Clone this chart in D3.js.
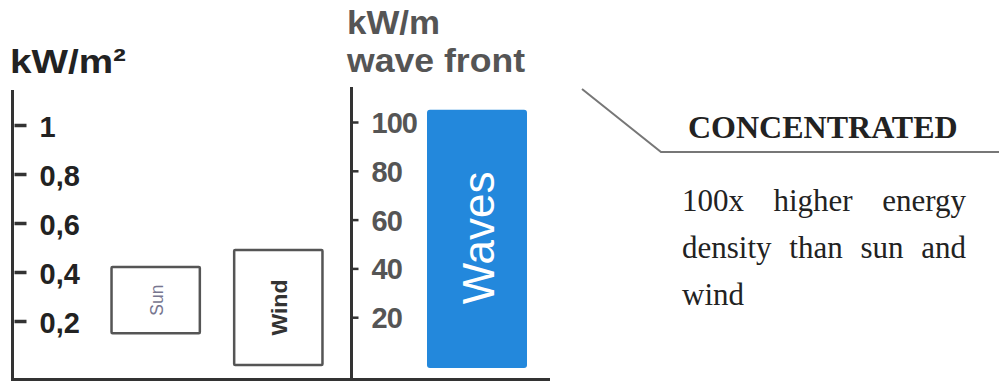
<!DOCTYPE html>
<html>
<head>
<meta charset="utf-8">
<script src="https://cdn.jsdelivr.net/npm/d3@7"></script>
<style>
  html, body { margin: 0; padding: 0; background: #fff; }
  svg { display: block; }
</style>
</head>
<body>
<svg id="chart" width="999" height="383"></svg>
<script>
// ---- data ----
const leftCategories = ["Sun", "Wind"];
const leftLow = [0.15, 0.02];
const leftHigh = [0.42, 0.49];
const leftTicks = [0.2, 0.4, 0.6, 0.8, 1];
const leftTickLabels = ["0,2", "0,4", "0,6", "0,8", "1"];
const leftUnit = "kW/m²";

const rightCategories = ["Waves"];
const rightLow = [0];
const rightHigh = [105];
const rightTicks = [20, 40, 60, 80, 100];
const rightTickLabels = ["20", "40", "60", "80", "100"];
const rightUnit = ["kW/m", "wave front"];

const headline = "CONCENTRATED";
const bodyLines = ["100x higher energy", "density than sun and", "wind"];

// ---- drawing ----
const svg = d3.select("#chart");
const sans = "'Liberation Sans', Arial, sans-serif";
const serif = "'Liberation Serif', 'Times New Roman', serif";

const yL = d3.scaleLinear().domain([0, 1]).range([370, 125]);
const yR = d3.scaleLinear().domain([0, 100]).range([366, 122]);
const xL = d3.scaleBand().domain(leftCategories).range([87, 347]).paddingInner(0.28).paddingOuter(0.2);
const xR = d3.scaleBand().domain(rightCategories).range([406, 548]).paddingInner(0).paddingOuter(0.21);

const leftAxisX = 12.5, rightAxisX = 351.5;

// bottom baseline
svg.append("line").attr("x1", 11).attr("x2", 550).attr("y1", 379.5).attr("y2", 379.5)
  .attr("stroke", "#333").attr("stroke-width", 3);

// left axis
const gL = svg.append("g").attr("transform", `translate(${leftAxisX},0)`)
  .call(d3.axisRight(yL).tickValues(leftTicks)
    .tickFormat((d, i) => leftTickLabels[i]).tickSize(14).tickPadding(13).tickSizeOuter(0));
gL.select(".domain").remove();
gL.selectAll(".tick line").attr("stroke", "#333").attr("stroke-width", 3.5).attr("x1", 2);
gL.selectAll(".tick text").attr("fill", "#222").style("font-family", sans)
  .style("font-size", "29px").style("font-weight", "bold").attr("dy", "0.38em");
svg.append("line").attr("x1", leftAxisX).attr("x2", leftAxisX).attr("y1", 90).attr("y2", 381)
  .attr("stroke", "#333").attr("stroke-width", 3);

// right axis
const gR = svg.append("g").attr("transform", `translate(${rightAxisX},0)`)
  .call(d3.axisRight(yR).tickValues(rightTicks)
    .tickFormat((d, i) => rightTickLabels[i]).tickSize(7).tickPadding(13).tickSizeOuter(0));
gR.select(".domain").remove();
gR.selectAll(".tick line").attr("stroke", "#333").attr("stroke-width", 2.5);
gR.selectAll(".tick text").attr("fill", "#555").style("font-family", sans)
  .style("font-size", "29px").style("font-weight", "bold").style("letter-spacing", "-1px").attr("dy", "0.36em");
svg.append("line").attr("x1", rightAxisX).attr("x2", rightAxisX).attr("y1", 87).attr("y2", 381)
  .attr("stroke", "#333").attr("stroke-width", 3);

// unit titles
svg.append("text").attr("x", 10).attr("y", 73).text(leftUnit)
  .attr("fill", "#222").style("font-family", sans).style("font-size", "33px").style("font-weight", "bold")
  .attr("textLength", 116).attr("lengthAdjust", "spacingAndGlyphs");
svg.append("text").attr("x", 347).attr("y", 34).text(rightUnit[0])
  .attr("fill", "#555").style("font-family", sans).style("font-size", "34px").style("font-weight", "bold")
  .attr("textLength", 93).attr("lengthAdjust", "spacingAndGlyphs");
svg.append("text").attr("x", 347).attr("y", 72).text(rightUnit[1])
  .attr("fill", "#555").style("font-family", sans).style("font-size", "34px").style("font-weight", "bold")
  .attr("textLength", 178).attr("lengthAdjust", "spacingAndGlyphs");

// left bars (outlined floating ranges)
const leftData = leftCategories.map((c, i) => ({ c, lo: leftLow[i], hi: leftHigh[i] }));
svg.selectAll("rect.lbar").data(leftData).join("rect").attr("class", "lbar")
  .attr("x", d => xL(d.c)).attr("width", xL.bandwidth())
  .attr("y", d => yL(d.hi)).attr("height", d => yL(d.lo) - yL(d.hi))
  .attr("fill", "#fff").attr("stroke", "#555").attr("stroke-width", 2.5).attr("rx", 1);
const labelStyle = {
  Sun: { fill: "#77768f", size: 18, weight: "normal", len: 31 },
  Wind: { fill: "#333", size: 22, weight: "bold", len: 56 }
};
svg.selectAll("text.lbl").data(leftData).join("text").attr("class", "lbl")
  .attr("transform", d => `translate(${xL(d.c) + xL.bandwidth() / 2 + 1},${(yL(d.hi) + yL(d.lo)) / 2}) rotate(-90)`)
  .attr("text-anchor", "middle").attr("dy", "0.35em")
  .attr("fill", d => labelStyle[d.c].fill)
  .style("font-family", sans).style("font-size", d => labelStyle[d.c].size + "px")
  .style("font-weight", d => labelStyle[d.c].weight)
  .attr("textLength", d => labelStyle[d.c].len).attr("lengthAdjust", "spacingAndGlyphs")
  .text(d => d.c);

// right bar
const rightData = rightCategories.map((c, i) => ({ c, lo: rightLow[i], hi: rightHigh[i] }));
svg.selectAll("rect.rbar").data(rightData).join("rect").attr("class", "rbar")
  .attr("x", d => xR(d.c)).attr("width", xR.bandwidth())
  .attr("y", d => yR(d.hi)).attr("height", d => yR(d.lo) - yR(d.hi) + 2)
  .attr("fill", "#2388dc").attr("rx", 3);
svg.selectAll("text.rlbl").data(rightData).join("text").attr("class", "rlbl")
  .attr("transform", d => `translate(${xR(d.c) + xR.bandwidth() / 2 + 1},${(yR(d.hi) + yR(d.lo)) / 2}) rotate(-90)`)
  .attr("text-anchor", "middle").attr("dy", "0.36em")
  .attr("fill", "#fff").style("font-family", sans).style("font-size", "44px")
  .text(d => d.c);

// callout line
svg.append("path").attr("d", "M582,89 L661,152 L999,152")
  .attr("fill", "none").attr("stroke", "#777").attr("stroke-width", 2);

// headline
svg.append("text").attr("x", 688).attr("y", 138).text(headline)
  .attr("fill", "#222").style("font-family", serif).style("font-size", "32px").style("font-weight", "bold");

// justified body text
const bodyLeft = 682, bodyRight = 966, bodyBase = 211, lineH = 47;
bodyLines.forEach((line, li) => {
  const words = line.split(" ");
  const y = bodyBase + li * lineH;
  const isLast = li === bodyLines.length - 1;
  const nodes = words.map(w => svg.append("text").attr("y", y).text(w)
    .attr("fill", "#222").style("font-family", serif).style("font-size", "31px"));
  const widths = nodes.map(n => n.node().getComputedTextLength());
  const total = d3.sum(widths);
  const gap = (!isLast && words.length > 1) ? (bodyRight - bodyLeft - total) / (words.length - 1) : 8;
  let x = bodyLeft;
  nodes.forEach((n, i) => { n.attr("x", x); x += widths[i] + gap; });
});
</script>
</body>
</html>
